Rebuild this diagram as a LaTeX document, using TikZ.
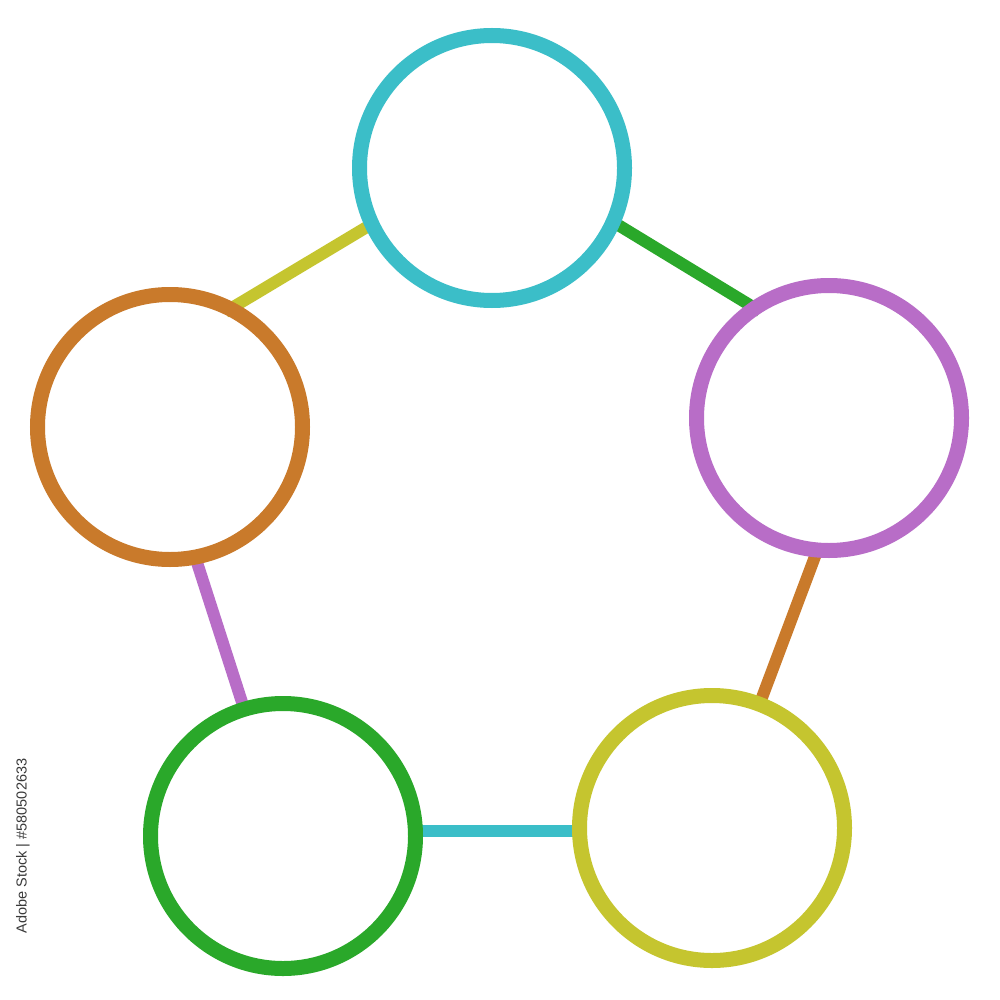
\documentclass[tikz,border=0pt]{standalone}
\usepackage{fontspec}
\newfontfamily\wmfont{Liberation Sans}
\usetikzlibrary{backgrounds}
\definecolor{ccyan}{HTML}{3BBEC8}
\definecolor{cpurple}{HTML}{B86DC7}
\definecolor{corange}{HTML}{C97A2B}
\definecolor{cgreen}{HTML}{2AA82A}
\definecolor{cyellow}{HTML}{C5C52F}
\definecolor{wmgray}{HTML}{3A3A3A}
\tikzset{
  ring/.style={circle, draw=#1, line width=15pt, minimum size=265pt, inner sep=0pt, outer sep=0pt},
  link/.style={draw=#1, line width=12pt, shorten <=-6pt, shorten >=-6pt}
}
\begin{document}
\begin{tikzpicture}[x=1pt,y=-1pt]
\useasboundingbox (0,0) rectangle (1000,1000);
\node[ring=ccyan] (top) at (492,168) {};
\node[ring=cpurple] (right) at (829,418) {};
\node[ring=corange] (left) at (170,427) {};
\node[ring=cgreen] (bl) at (283,836) {};
\node[ring=cyellow] (br) at (712,828) {};
\begin{scope}[on background layer]
\fill[white] (0,0) rectangle (1000,1000);
\draw[link=cyellow] (top.205) -- (left.63);
\draw[link=cgreen] (top.336) -- (right.124);
\draw[link=corange] (right.265) -- (br.69);
\draw[link=cpurple] (left.281.6) -- (bl.107);
\draw[link=ccyan] (bl.2.5) -- (bl.2.5 -| br.west);
\end{scope}
\node[rotate=90, text=wmgray, font=\wmfont\fontsize{14.5pt}{16pt}\selectfont, inner sep=0pt] (wm) at (23,846) {Adobe Stock | \#580502633};
\end{tikzpicture}
\end{document}
